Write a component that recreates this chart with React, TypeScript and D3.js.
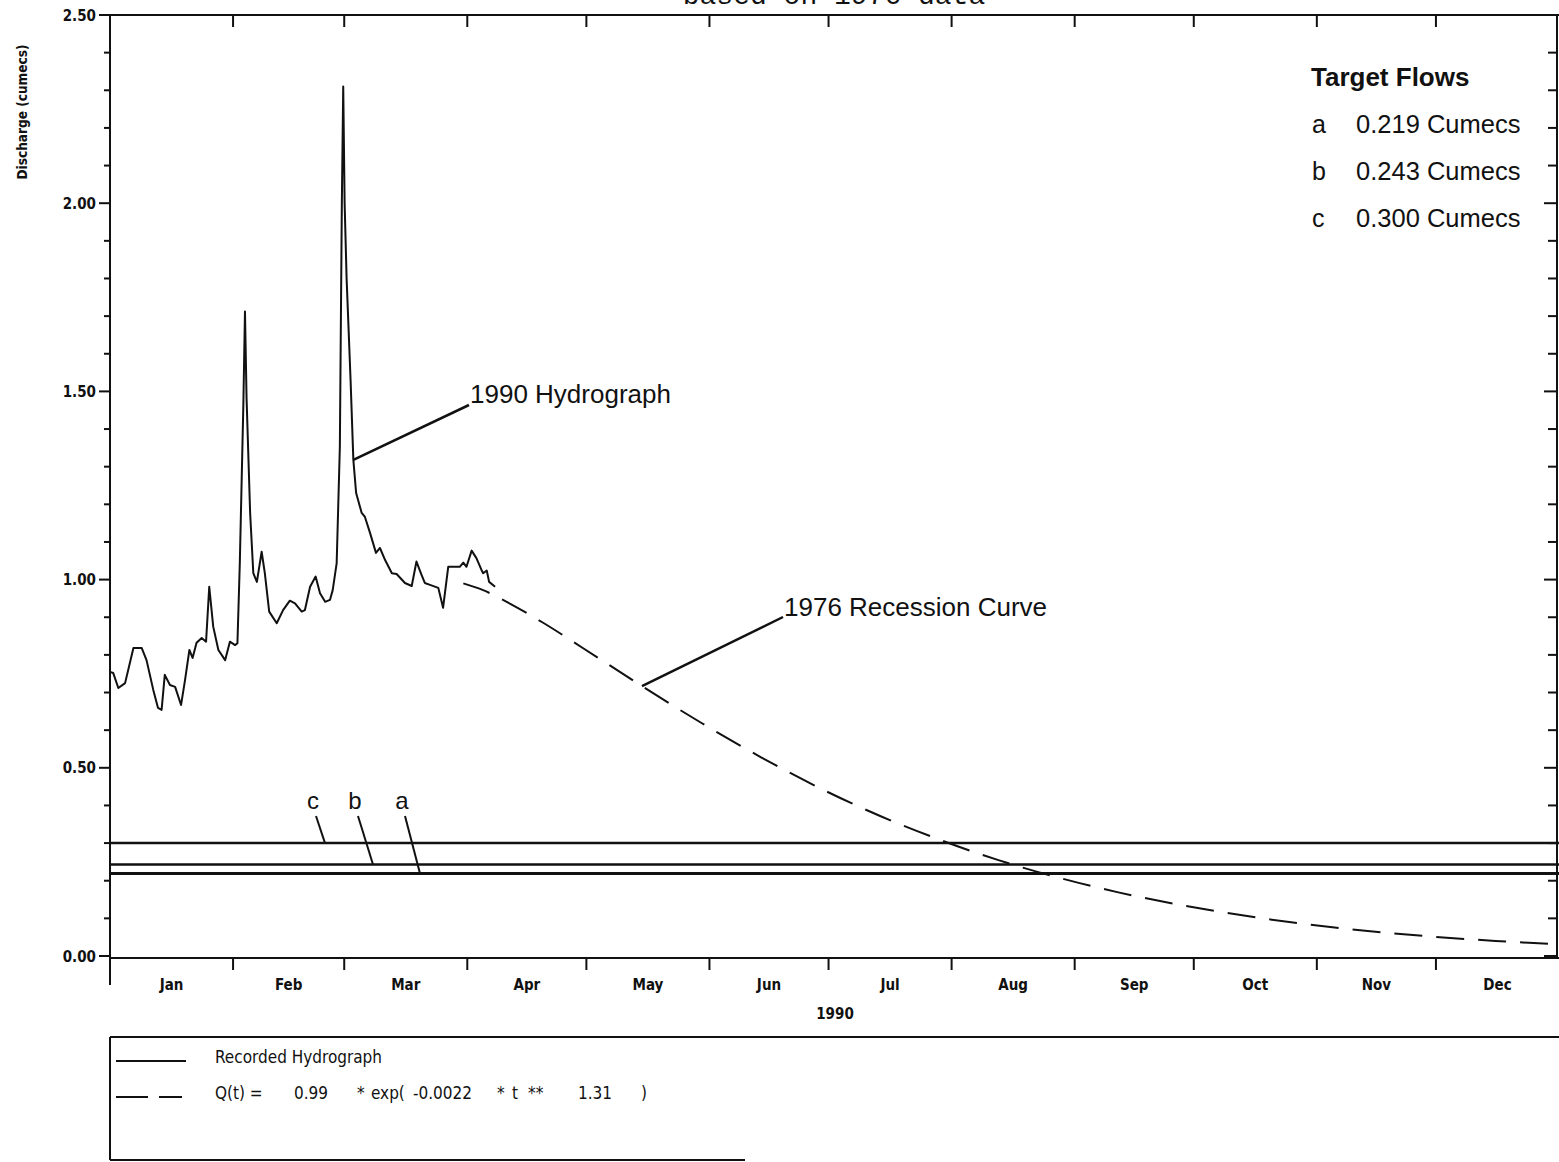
import React from "react";
import * as d3 from "d3";

// ---- data ----
const monthLabels = ["Jan", "Feb", "Mar", "Apr", "May", "Jun", "Jul", "Aug", "Sep", "Oct", "Nov", "Dec"];
const yearLabel = "1990";
const yTickValues = [0, 0.5, 1.0, 1.5, 2.0, 2.5];

// Recorded 1990 hydrograph: day of year (0 = 1 Jan) and discharge (cumecs)
const hydroDay = [
  0, 0.8, 2.1, 3.8, 5.9, 8.0, 9.2, 10.9, 12.1, 13.0,
  13.8, 15.1, 16.4, 17.9, 18.9, 20.0, 20.8, 21.8, 23.1, 24.2,
  25.0, 26.0, 27.3, 29.0, 30.2, 31.5, 32.1, 32.7, 33.6, 34.0,
  34.4, 35.3, 36.1, 37.0, 38.2, 39.0, 40.1, 42.0, 43.6, 45.3,
  46.6, 48.3, 49.1, 50.4, 51.8, 52.9, 54.2, 55.4, 56.1, 57.1,
  57.9, 58.4, 58.75, 59.1, 59.6, 60.6, 61.3, 62.0, 63.4, 64.2,
  65.5, 67.0, 68.0, 69.3, 71.0, 72.2, 74.3, 76.0, 77.2, 78.5,
  79.3, 80.6, 82.7, 83.9, 85.2, 88.1, 89.0, 89.8, 91.1, 92.3,
  93.6, 94.0, 94.9, 95.5, 97.0,
];
const hydroQ = [
  0.755, 0.752, 0.712, 0.725, 0.818, 0.818, 0.786, 0.707, 0.659, 0.654,
  0.747, 0.720, 0.715, 0.667, 0.733, 0.813, 0.792, 0.832, 0.845, 0.835,
  0.981, 0.875, 0.813, 0.786, 0.835, 0.826, 0.831, 1.044, 1.469, 1.712,
  1.482, 1.177, 1.017, 0.994, 1.074, 1.017, 0.915, 0.884, 0.919, 0.944,
  0.937, 0.915, 0.919, 0.981, 1.008, 0.964, 0.941, 0.946, 0.972, 1.044,
  1.353, 2.000, 2.310, 2.000, 1.800, 1.530, 1.318, 1.230, 1.177, 1.167,
  1.124, 1.071, 1.084, 1.052, 1.017, 1.015, 0.991, 0.983, 1.048, 1.012,
  0.991, 0.986, 0.978, 0.925, 1.034, 1.034, 1.045, 1.034, 1.077, 1.057,
  1.025, 1.017, 1.024, 0.994, 0.981,
];

// 1976 recession curve readings
const recessDay = [89, 94, 99, 109, 119, 134, 149, 164, 179, 194, 209, 224, 239, 254, 269, 289, 309, 329, 349, 365];
const recessQ = [0.990, 0.972, 0.946, 0.886, 0.819, 0.717, 0.619, 0.528, 0.445, 0.372, 0.309, 0.254, 0.208, 0.169, 0.137, 0.102, 0.075, 0.055, 0.040, 0.031];

// Target flows
const targetNames = ["a", "b", "c"];
const targetQ = [0.219, 0.243, 0.300];

// Legend equation pieces
const eqnParts = ["Q(t) =", "0.99", "*", "exp(", "-0.0022", "*", "t", "**", "1.31", ")"];
const eqnX = [215, 294, 357, 371, 413, 497, 512, 528, 578, 641];

// ---- layout ----
const W = 1559;
const H = 1162;
const LEFT = 110;
const RIGHT = 1559;
const TOP = 15;
const BOTTOM = 956;

const PLOT_FONT = "'DejaVu Sans Condensed', 'Liberation Sans Narrow', 'DejaVu Sans', sans-serif";
const HELV = "'Liberation Sans', Arial, Helvetica, sans-serif";

const t0 = Date.UTC(1990, 0, 1);
const dayToDate = (d: number) => new Date(t0 + d * 86400000);

export default function App() {
  const x = d3.scaleUtc().domain([new Date(t0), new Date(Date.UTC(1991, 0, 1))]).range([LEFT, RIGHT]);
  const y = d3.scaleLinear().domain([0, 2.5]).range([BOTTOM, TOP]);

  const months = d3.utcMonths(new Date(t0), new Date(Date.UTC(1991, 0, 1)));
  const monthBounds = months.slice(1);
  const minorTicks = d3.range(0, 26).map((i) => i / 10);

  const hydro = hydroDay.map((d, i) => [x(dayToDate(d)), y(hydroQ[i])] as [number, number]);
  const recess = recessDay.map((d, i) => [x(dayToDate(d)), y(recessQ[i])] as [number, number]);

  const lineLinear = d3.line();
  const lineSmooth = d3.line().curve(d3.curveMonotoneX);

  const hydroAnchor = hydro[56];
  const recessAnchor = recess[5];

  const axisY = y(0) + 2;

  return (
    <div style={{ position: "absolute", left: 0, top: 0 }}>
      <svg width={W} height={H} style={{ display: "block", background: "#fff" }}>
        {/* title, running off the top edge */}
        <text x={834} y={4} textAnchor="middle" fontFamily="'Liberation Mono', 'DejaVu Sans Mono', monospace" fontSize={28} fill="#111">
          based on 1976 data
        </text>

        {/* y axis title */}
        <text
          transform={`translate(27,112) rotate(-90)`}
          textAnchor="middle"
          fontFamily={PLOT_FONT}
          fontWeight="bold"
          fontSize={13.5}
          fill="#111"
        >
          Discharge (cumecs)
        </text>

        {/* frame */}
        <g stroke="#111" strokeWidth={2} fill="none">
          <line x1={LEFT} y1={TOP} x2={RIGHT} y2={TOP} />
          <line x1={LEFT} y1={TOP} x2={LEFT} y2={985} />
          <line x1={LEFT} y1={axisY} x2={RIGHT} y2={axisY} />
          <line x1={RIGHT - 2} y1={TOP} x2={RIGHT - 2} y2={axisY} />
        </g>

        {/* left and right ticks */}
        <g stroke="#111" strokeWidth={2}>
          {minorTicks.map((v) => {
            const major = Math.abs(v * 2 - Math.round(v * 2)) < 1e-6;
            return <line key={"l" + v} x1={LEFT - (major ? 11 : 6)} x2={LEFT} y1={y(v)} y2={y(v)} />;
          })}
          {minorTicks.map((v) => {
            const major = Math.abs(v * 2 - Math.round(v * 2)) < 1e-6;
            return <line key={"r" + v} x1={RIGHT - 2 - (major ? 13 : 9)} x2={RIGHT - 2} y1={y(v)} y2={y(v)} />;
          })}
        </g>
        <g fontFamily={PLOT_FONT} fontWeight="bold" fontSize={15} fill="#111" textAnchor="end">
          {yTickValues.map((v) => (
            <text key={v} x={LEFT - 14} y={y(v) + 5.5}>
              {v.toFixed(2)}
            </text>
          ))}
        </g>

        {/* month ticks top and bottom */}
        <g stroke="#111" strokeWidth={2}>
          {monthBounds.map((m, i) => (
            <g key={i}>
              <line x1={x(m)} x2={x(m)} y1={TOP} y2={TOP + 12} />
              <line x1={x(m)} x2={x(m)} y1={axisY} y2={axisY + 12} />
            </g>
          ))}
        </g>
        <g fontFamily={PLOT_FONT} fontWeight="bold" fontSize={15} fill="#111" textAnchor="middle">
          {months.map((m, i) => {
            const next = d3.utcMonth.offset(m, 1);
            const mid = (x(m) + x(next)) / 2;
            return (
              <text key={i} x={mid} y={990}>
                {monthLabels[i]}
              </text>
            );
          })}
          <text x={835} y={1019}>{yearLabel}</text>
        </g>

        {/* target flow lines */}
        <g stroke="#111">
          {targetQ.map((q, i) => (
            <line key={i} x1={LEFT} x2={RIGHT} y1={y(q)} y2={y(q)} strokeWidth={i === 0 ? 3 : 2.5} />
          ))}
        </g>
        {/* target flow labels with leaders */}
        {targetNames.map((n, i) => {
          const lx = [402, 355, 313][i];
          const ex = [420, 373, 325][i];
          return (
            <g key={n}>
              <text x={lx} y={809} textAnchor="middle" fontFamily={HELV} fontSize={24} fill="#111">
                {n}
              </text>
              <line x1={lx + 3} y1={816} x2={ex} y2={y(targetQ[i])} stroke="#111" strokeWidth={2} />
            </g>
          );
        })}

        {/* hydrograph */}
        <path d={lineLinear(hydro) || ""} fill="none" stroke="#111" strokeWidth={2} strokeLinejoin="round" />
        {/* recession curve */}
        <path d={lineSmooth(recess) || ""} fill="none" stroke="#111" strokeWidth={2} strokeDasharray="28,14" />

        {/* annotations */}
        <line x1={hydroAnchor[0]} y1={hydroAnchor[1]} x2={469} y2={405} stroke="#111" strokeWidth={2.5} />
        <text x={470} y={403} fontFamily={HELV} fontSize={26} fill="#111">
          1990 Hydrograph
        </text>
        <line x1={recessAnchor[0]} y1={recessAnchor[1]} x2={783} y2={617} stroke="#111" strokeWidth={2.5} />
        <text x={784} y={616} fontFamily={HELV} fontSize={26} fill="#111">
          1976 Recession Curve
        </text>

        {/* target flows box */}
        <g fontFamily={HELV} fill="#111">
          <text x={1311} y={86} fontSize={26} fontWeight="bold">
            Target Flows
          </text>
          {targetNames.map((n, i) => (
            <g key={n}>
              <text x={1312} y={133 + i * 47} fontSize={25}>
                {n}
              </text>
              <text x={1356} y={133 + i * 47} fontSize={25.5}>
                {targetQ[i].toFixed(3) + " Cumecs"}
              </text>
            </g>
          ))}
        </g>

        {/* legend */}
        <g stroke="#111" strokeWidth={2}>
          <line x1={LEFT} y1={1037} x2={RIGHT} y2={1037} />
          <line x1={LEFT} y1={1037} x2={LEFT} y2={1160} />
          <line x1={LEFT} y1={1160} x2={745} y2={1160} />
          <line x1={116} y1={1061} x2={186} y2={1061} />
          <line x1={116} y1={1097} x2={182} y2={1097} strokeDasharray="32,11" />
        </g>
        <g fontFamily={PLOT_FONT} fontSize={17} fill="#111">
          <text x={215} y={1063}>Recorded Hydrograph</text>
          {eqnParts.map((p, i) => (
            <text key={i} x={eqnX[i]} y={1099}>
              {p}
            </text>
          ))}
        </g>
      </svg>
    </div>
  );
}
